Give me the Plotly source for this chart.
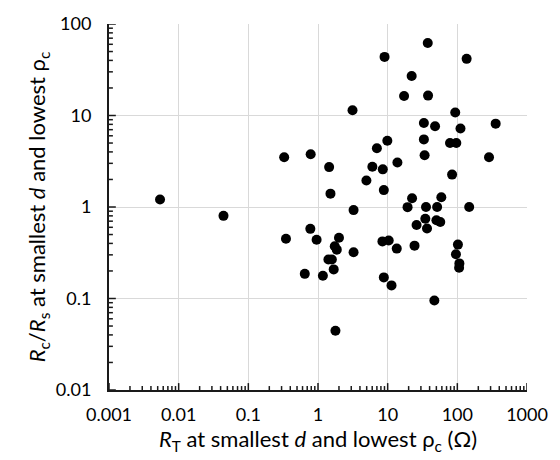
import plotly.graph_objects as go

# R_T at smallest d and lowest rho_c (Ohm)
rt = [0.0054, 0.044, 0.327, 0.347, 0.785, 0.776, 0.646, 0.955, 1.175, 1.445,
      1.51, 1.41, 1.58, 1.68, 1.74, 1.86, 2.0, 1.78, 3.13, 3.24,
      3.24, 4.95, 6.03, 7.0, 8.51, 8.81, 9.02, 9.89, 8.41, 10.35,
      8.81, 11.35, 13.5, 13.8, 17.2, 22.1, 19.3, 22.4, 26.0, 24.3,
      37.6, 38.0, 33.1, 33.1, 33.9, 35.5, 34.7, 36.7, 47.9, 51.3,
      50.1, 56.9, 58.9, 46.8, 78.5, 96.6, 93.3, 111, 84.1, 102,
      95.5, 107, 106, 136, 148, 285, 355]
# Rc/Rs at smallest d and lowest rho_c
ratio = [1.21, 0.80, 3.50, 0.45, 3.77, 0.577, 0.186, 0.438, 0.177, 2.73,
         1.40, 0.267, 0.267, 0.208, 0.372, 0.342, 0.461, 0.0444, 11.4, 0.925,
         0.32, 1.95, 2.75, 4.38, 2.58, 1.53, 43.7, 5.30, 0.421, 0.431,
         0.17, 0.139, 0.351, 3.07, 16.3, 27.0, 0.996, 1.245, 0.637, 0.378,
         61.9, 16.5, 8.28, 5.48, 3.68, 1.0, 0.745, 0.582, 7.63, 1.0,
         0.715, 0.686, 1.28, 0.095, 5.0, 5.0, 10.8, 7.2, 2.26, 0.388,
         0.305, 0.242, 0.217, 41.6, 1.0, 3.50, 8.15]

x_ticks = [0.001, 0.01, 0.1, 1, 10, 100, 1000]
x_labels = ["0.001", "0.01", "0.1", "1", "10", "100", "1000"]
y_ticks = [0.01, 0.1, 1, 10, 100]
y_labels = ["0.01", "0.1", "1", "10", "100"]
minor_mults = [2, 3, 4, 5, 6, 7, 8, 9]

FONT = "Lato, 'Open Sans', sans-serif"
LINE_COLOR = "#1a1a1a"

# Excel-style inside tick marks (major + minor), lengths in px converted to log factors
X_DEC_PX = 428.4 / 6.0
Y_DEC_PX = 372.0 / 4.0
MAJ_LEN, MIN_LEN = 7.0, 4.0
x0, y0 = x_ticks[0], y_ticks[0]

tx, ty = [], []
for d in x_ticks:
    tx += [d, d, None]
    ty += [y0, y0 * 10 ** (MAJ_LEN / Y_DEC_PX), None]
for d in x_ticks[:-1]:
    for m in minor_mults:
        tx += [m * d, m * d, None]
        ty += [y0, y0 * 10 ** (MIN_LEN / Y_DEC_PX), None]
for d in y_ticks:
    tx += [x0, x0 * 10 ** (MAJ_LEN / X_DEC_PX), None]
    ty += [d, d, None]
for d in y_ticks[:-1]:
    for m in minor_mults:
        tx += [x0, x0 * 10 ** (MIN_LEN / X_DEC_PX), None]
        ty += [m * d, m * d, None]

fig = go.Figure()
fig.add_trace(go.Scatter(
    x=tx, y=ty, mode="lines", line=dict(color=LINE_COLOR, width=1.5),
    hoverinfo="skip", showlegend=False, cliponaxis=False,
))
fig.add_trace(go.Scatter(
    x=rt, y=ratio, mode="markers",
    marker=dict(color="black", size=10, line=dict(width=0)),
    hoverinfo="x+y", showlegend=False,
))

axis_common = dict(
    type="log",
    showline=True, linecolor=LINE_COLOR, linewidth=2,
    showgrid=True, gridcolor="#d9d9d9", gridwidth=1,
    zeroline=False,
    ticks="outside", tickwidth=1, tickcolor="rgba(0,0,0,0)",
    tickfont=dict(family=FONT, size=18, color="black"),
    mirror=False,
)

fig.update_xaxes(
    **axis_common,
    range=[-3, 3],
    ticklen=7,
    tickmode="array", tickvals=x_ticks, ticktext=x_labels,
    title=dict(text="<i>R</i><sub>T</sub> at smallest <i>d</i> and lowest ρ<sub>c</sub> (Ω)",
               font=dict(family=FONT, size=22, color="black"), standoff=8),
)
fig.update_yaxes(
    **axis_common,
    range=[-2, 2],
    ticklen=12,
    tickmode="array", tickvals=y_ticks, ticktext=y_labels,
    title=dict(text="<i>R</i><sub>c</sub>/<i>R</i><sub>s</sub> at smallest <i>d</i> and lowest ρ<sub>c</sub>",
               font=dict(family=FONT, size=22, color="black"), standoff=4),
)

fig.update_layout(
    width=560, height=460,
    margin=dict(l=109, r=23, t=20, b=68),
    plot_bgcolor="white", paper_bgcolor="white",
    showlegend=False,
)

fig.write_html("out.html")
